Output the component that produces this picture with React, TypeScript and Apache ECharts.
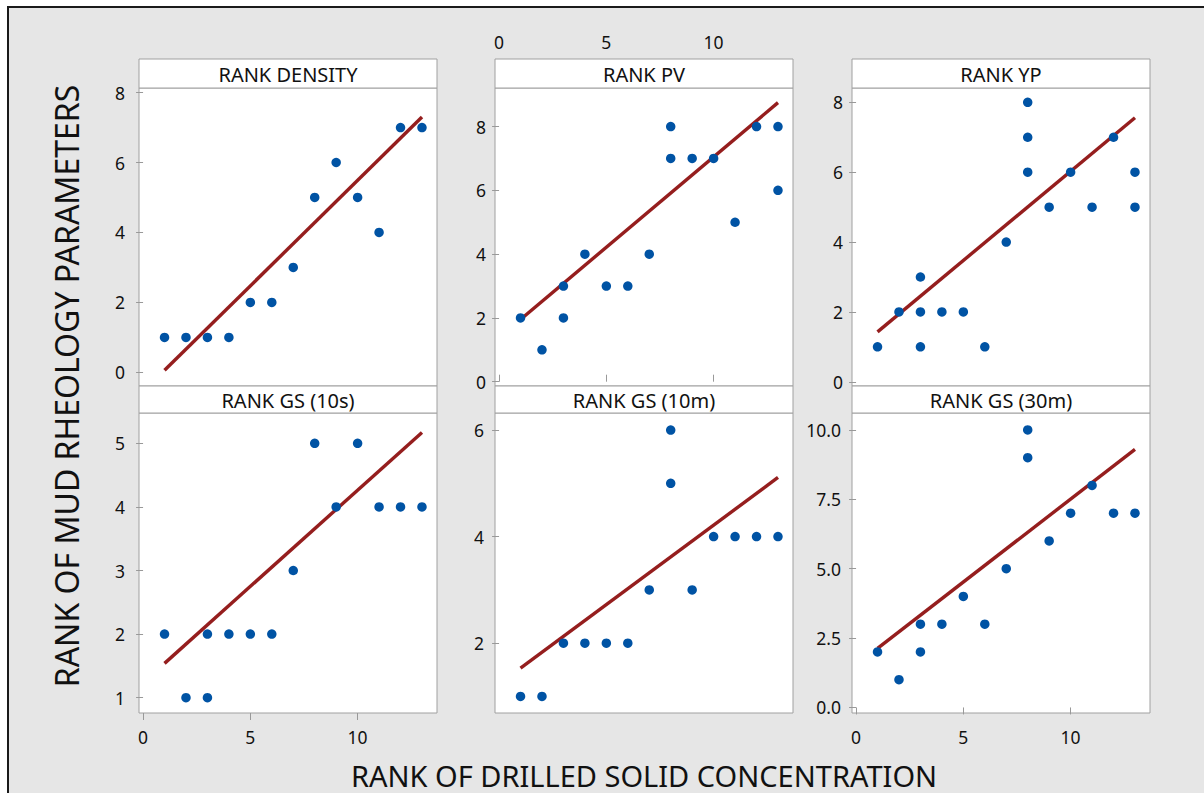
import React, { useEffect, useRef } from "react";
import * as echarts from "echarts";

// ---------- data ----------
const panelTitles = ["RANK DENSITY", "RANK PV", "RANK YP", "RANK GS (10s)", "RANK GS (10m)", "RANK GS (30m)"];

const densityX = [1, 2, 3, 4, 5, 6, 7, 8, 9, 10, 11, 12, 13];
const densityY = [1, 1, 1, 1, 2, 2, 3, 5, 6, 5, 4, 7, 7];

const pvX = [1, 2, 3, 3, 4, 5, 6, 7, 8, 8, 9, 10, 11, 12, 13, 13];
const pvY = [2, 1, 3, 2, 4, 3, 3, 4, 8, 7, 7, 7, 5, 8, 8, 6];

const ypX = [1, 2, 3, 3, 3, 4, 5, 6, 7, 8, 8, 8, 9, 10, 11, 12, 13, 13];
const ypY = [1, 2, 3, 2, 1, 2, 2, 1, 4, 8, 7, 6, 5, 6, 5, 7, 6, 5];

const gs10sX = [1, 2, 3, 3, 4, 5, 6, 7, 8, 9, 10, 11, 12, 13];
const gs10sY = [2, 1, 2, 1, 2, 2, 2, 3, 5, 4, 5, 4, 4, 4];

const gs10mX = [1, 2, 3, 4, 5, 6, 7, 8, 8, 9, 10, 11, 12, 13];
const gs10mY = [1, 1, 2, 2, 2, 2, 3, 6, 5, 3, 4, 4, 4, 4];

const gs30mX = [1, 2, 3, 3, 4, 5, 6, 7, 8, 8, 9, 10, 11, 12, 13];
const gs30mY = [2, 1, 3, 2, 3, 4, 3, 5, 10, 9, 6, 7, 8, 7, 7];

// fitted line end points at x = fitX
const fitX = [1, 13];
const fitDensityY = [0.06, 7.3];
const fitPvY = [1.95, 8.75];
const fitYpY = [1.43, 7.56];
const fitGs10sY = [1.54, 5.17];
const fitGs10mY = [1.53, 5.11];
const fitGs30mY = [2.13, 9.3];

// axis ticks
const xTicks = [0, 5, 10];
const yTicksDensity = [0, 2, 4, 6, 8];
const yTicksPv = [0, 2, 4, 6, 8];
const yTicksYp = [0, 2, 4, 6, 8];
const yTicksGs10s = [1, 2, 3, 4, 5];
const yTicksGs10m = [2, 4, 6];
const yTicksGs30m = [0, 2.5, 5, 7.5, 10];

const xAxisTitle = "RANK OF DRILLED SOLID CONCENTRATION";
const yAxisTitle = "RANK OF MUD RHEOLOGY PARAMETERS";

// ---------- layout ----------
const FONT = '"Noto Sans", "Open Sans", sans-serif';
const colsLeft = [139, 495, 852];
const panelW = 298;
const rowTop = [88, 413];
const panelH = [298, 300];
const headerH = [29, 27];
const BORDER = "#a0a0a0";
const DOT = "#0053a4";
const FIT = "#951e1e";
const TICK_FS = 17.5;

export default function App() {
  const ref = useRef<HTMLDivElement>(null);

  useEffect(() => {
    if (!ref.current) return;
    const chart = echarts.init(ref.current, null, { renderer: "svg" });

    const xs = [densityX, pvX, ypX, gs10sX, gs10mX, gs30mX];
    const ys = [densityY, pvY, ypY, gs10sY, gs10mY, gs30mY];
    const fits = [fitDensityY, fitPvY, fitYpY, fitGs10sY, fitGs10mY, fitGs30mY];
    const yTicks = [yTicksDensity, yTicksPv, yTicksYp, yTicksGs10s, yTicksGs10m, yTicksGs30m];
    const yRanges = [
      [-0.39, 8.13],
      [-0.135, 9.21],
      [-0.12, 8.41],
      [0.76, 5.476],
      [0.69, 6.32],
      [-0.2, 10.61],
    ];
    const yMargins = [14, 9, 9, 14, 11, 11];

    const grids: any[] = [];
    const xAxes: any[] = [];
    const yAxes: any[] = [];
    const series: any[] = [];
    const graphics: any[] = [
      {
        type: "rect",
        shape: { x: 8, y: 7, width: 1400, height: 1000 },
        style: { fill: "#e6e6e6", stroke: "#1a1a1a", lineWidth: 2 },
        z: -10,
        silent: true,
      },
    ];

    for (let i = 0; i < 6; i++) {
      const r = Math.floor(i / 3);
      const c = i % 3;
      const left = colsLeft[c];
      const top = rowTop[r];
      const h = panelH[r];
      grids.push({
        left,
        top,
        width: panelW,
        height: h,
        show: true,
        backgroundColor: "#ffffff",
        borderColor: BORDER,
        borderWidth: 1,
      });

      const showTop = i === 1;
      const showBottom = i === 3 || i === 5;
      const showX = showTop || showBottom;
      xAxes.push({
        type: "value",
        gridIndex: i,
        min: -0.19,
        max: 13.7,
        position: showTop ? "top" : "bottom",
        offset: showTop ? headerH[0] : 0,
        axisLine: { show: false },
        splitLine: { show: false },
        axisTick: {
          show: showX,
          customValues: xTicks,
          length: 7,
          lineStyle: { color: "#999999", width: 1 },
        },
        axisLabel: {
          show: showX,
          customValues: xTicks,
          margin: showTop ? 8 : 15,
          color: "#111111",
          fontSize: TICK_FS,
          fontFamily: FONT,
        },
      });

      yAxes.push({
        type: "value",
        gridIndex: i,
        min: yRanges[i][0],
        max: yRanges[i][1],
        axisLine: { show: false },
        splitLine: { show: false },
        axisTick: {
          show: true,
          customValues: yTicks[i],
          length: 7,
          lineStyle: { color: "#999999", width: 1 },
        },
        axisLabel: {
          show: true,
          customValues: yTicks[i],
          margin: yMargins[i],
          color: "#111111",
          fontSize: TICK_FS,
          fontFamily: FONT,
          formatter: i === 5 ? (v: number) => v.toFixed(1) : (v: number) => String(v),
        },
      });

      series.push({
        type: "line",
        xAxisIndex: i,
        yAxisIndex: i,
        data: fitX.map((x, k) => [x, fits[i][k]]),
        showSymbol: false,
        symbol: "none",
        lineStyle: { color: FIT, width: 3.4 },
        z: 2,
        silent: true,
      });
      series.push({
        type: "scatter",
        xAxisIndex: i,
        yAxisIndex: i,
        data: xs[i].map((x, k) => [x, ys[i][k]]),
        symbol: "circle",
        symbolSize: 9.5,
        itemStyle: { color: DOT, opacity: 1 },
        z: 3,
        silent: true,
      });

      // header strip
      const hh = headerH[r];
      graphics.push({
        type: "rect",
        shape: { x: left, y: top - hh, width: panelW, height: hh },
        style: { fill: "#ffffff", stroke: BORDER, lineWidth: 1 },
        z: 5,
        silent: true,
      });
      graphics.push({
        type: "text",
        x: left + panelW / 2,
        y: top - hh / 2 + 1,
        style: {
          text: panelTitles[i],
          fill: "#111111",
          font: `20px ${FONT}`,
          textAlign: "center",
          textVerticalAlign: "middle",
          align: "center",
          verticalAlign: "middle",
        },
        z: 6,
        silent: true,
      });
    }

    graphics.push({
      type: "text",
      x: 644,
      y: 775,
      style: {
        text: xAxisTitle,
        fill: "#111111",
        font: `29px ${FONT}`,
        textAlign: "center",
        textVerticalAlign: "middle",
        align: "center",
        verticalAlign: "middle",
      },
      z: 6,
      silent: true,
    });
    graphics.push({
      type: "text",
      x: 66,
      y: 386,
      rotation: Math.PI / 2,
      style: {
        text: yAxisTitle,
        fill: "#111111",
        font: `32px ${FONT}`,
        textAlign: "center",
        textVerticalAlign: "middle",
        align: "center",
        verticalAlign: "middle",
      },
      z: 6,
      silent: true,
    });

    chart.setOption({
      animation: false,
      backgroundColor: "#ffffff",
      grid: grids,
      xAxis: xAxes,
      yAxis: yAxes,
      series,
      graphic: graphics,
    });

    return () => chart.dispose();
  }, []);

  return (
    <div
      ref={ref}
      style={{ position: "fixed", left: 0, top: 0, width: 1204, height: 793 }}
    />
  );
}
